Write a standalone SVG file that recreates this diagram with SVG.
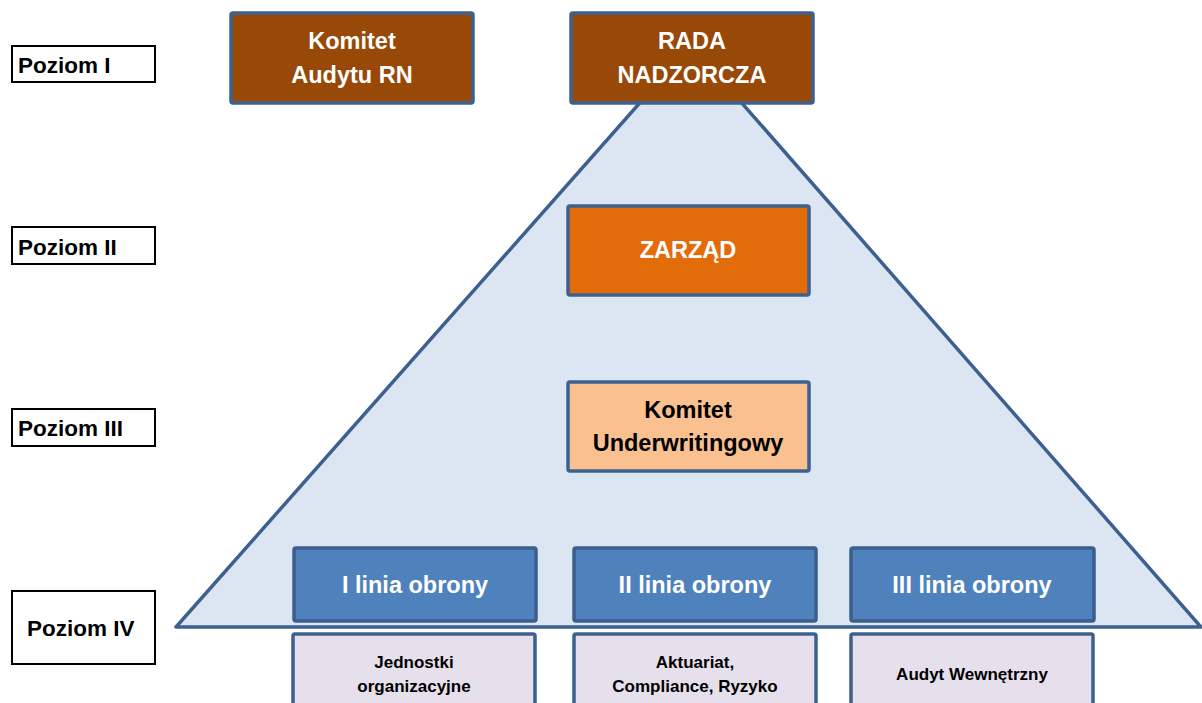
<svg xmlns="http://www.w3.org/2000/svg" width="1202" height="703" viewBox="0 0 1202 703">
<style>
text{font-family:"Liberation Sans",Arial,sans-serif;font-weight:bold;text-anchor:middle}
.lvl rect{fill:#fff;stroke:#000;stroke-width:2}
.lvl text{font-size:22.5px;fill:#000;text-anchor:start}
.box{stroke:#3c6191;stroke-width:3.5}
.dark{fill:#984807}
.w{fill:#fff;font-size:23.5px}
.b{fill:#000;font-size:23.5px}
.blue{fill:#4f81bd;stroke:#3a5f8c;stroke-width:3.5}
.lil{fill:#e5e0ec}
.s{fill:#000;font-size:17px}
</style>
<rect width="1202" height="703" fill="#fff"/>
<g id="pyramid">
<polygon points="691,45 176,627 1201,627" fill="#dce6f2" stroke="#3c6191" stroke-width="3.5" stroke-linejoin="round"/>
</g>
<g id="connectors"/>
<g id="poziom1" class="lvl"><rect x="12" y="46" width="143" height="36"/><text x="18" y="73">Poziom I</text></g>
<g id="poziom2" class="lvl"><rect x="12" y="227" width="143" height="37"/><text x="18" y="255">Poziom II</text></g>
<g id="poziom3" class="lvl"><rect x="12" y="409" width="143" height="37"/><text x="18" y="436">Poziom III</text></g>
<g id="poziom4" class="lvl"><rect x="12" y="591" width="143" height="73"/><text x="27" y="636">Poziom IV</text></g>
<g id="komitet-audytu"><rect class="box dark" x="231" y="13" width="242" height="90" rx="2"/><text class="w" x="352" y="49">Komitet</text><text class="w" x="352" y="83">Audytu RN</text></g>
<g id="rada"><rect class="box dark" x="571" y="13" width="242" height="90" rx="2"/><text class="w" x="692" y="49">RADA</text><text class="w" x="692" y="83">NADZORCZA</text></g>
<g id="zarzad"><rect class="box" fill="#e36c0a" x="568" y="206" width="241" height="89" rx="2"/><text class="w" x="688" y="258">ZARZĄD</text></g>
<g id="komitet-uw"><rect class="box" fill="#fac090" x="568" y="382" width="241" height="89" rx="2"/><text class="b" x="688" y="418">Komitet</text><text class="b" x="688" y="451">Underwritingowy</text></g>
<g id="linia1"><rect class="blue" x="294" y="548" width="242" height="73" rx="2"/><text class="w" x="415" y="593">I linia obrony</text></g>
<g id="linia2"><rect class="blue" x="574" y="548" width="242" height="73" rx="2"/><text class="w" x="695" y="593">II linia obrony</text></g>
<g id="linia3"><rect class="blue" x="851" y="548" width="243" height="73" rx="2"/><text class="w" x="972" y="593">III linia obrony</text></g>
<g id="jednostki"><rect class="box lil" x="293" y="634" width="242" height="80" rx="2"/><text class="s" x="414" y="668">Jednostki</text><text class="s" x="414" y="692">organizacyjne</text></g>
<g id="aktuariat"><rect class="box lil" x="574" y="634" width="242" height="80" rx="2"/><text class="s" x="695" y="668">Aktuariat,</text><text class="s" x="695" y="692">Compliance, Ryzyko</text></g>
<g id="audyt"><rect class="box lil" x="851" y="634" width="242" height="80" rx="2"/><text class="s" x="972" y="680">Audyt Wewnętrzny</text></g>
</svg>
